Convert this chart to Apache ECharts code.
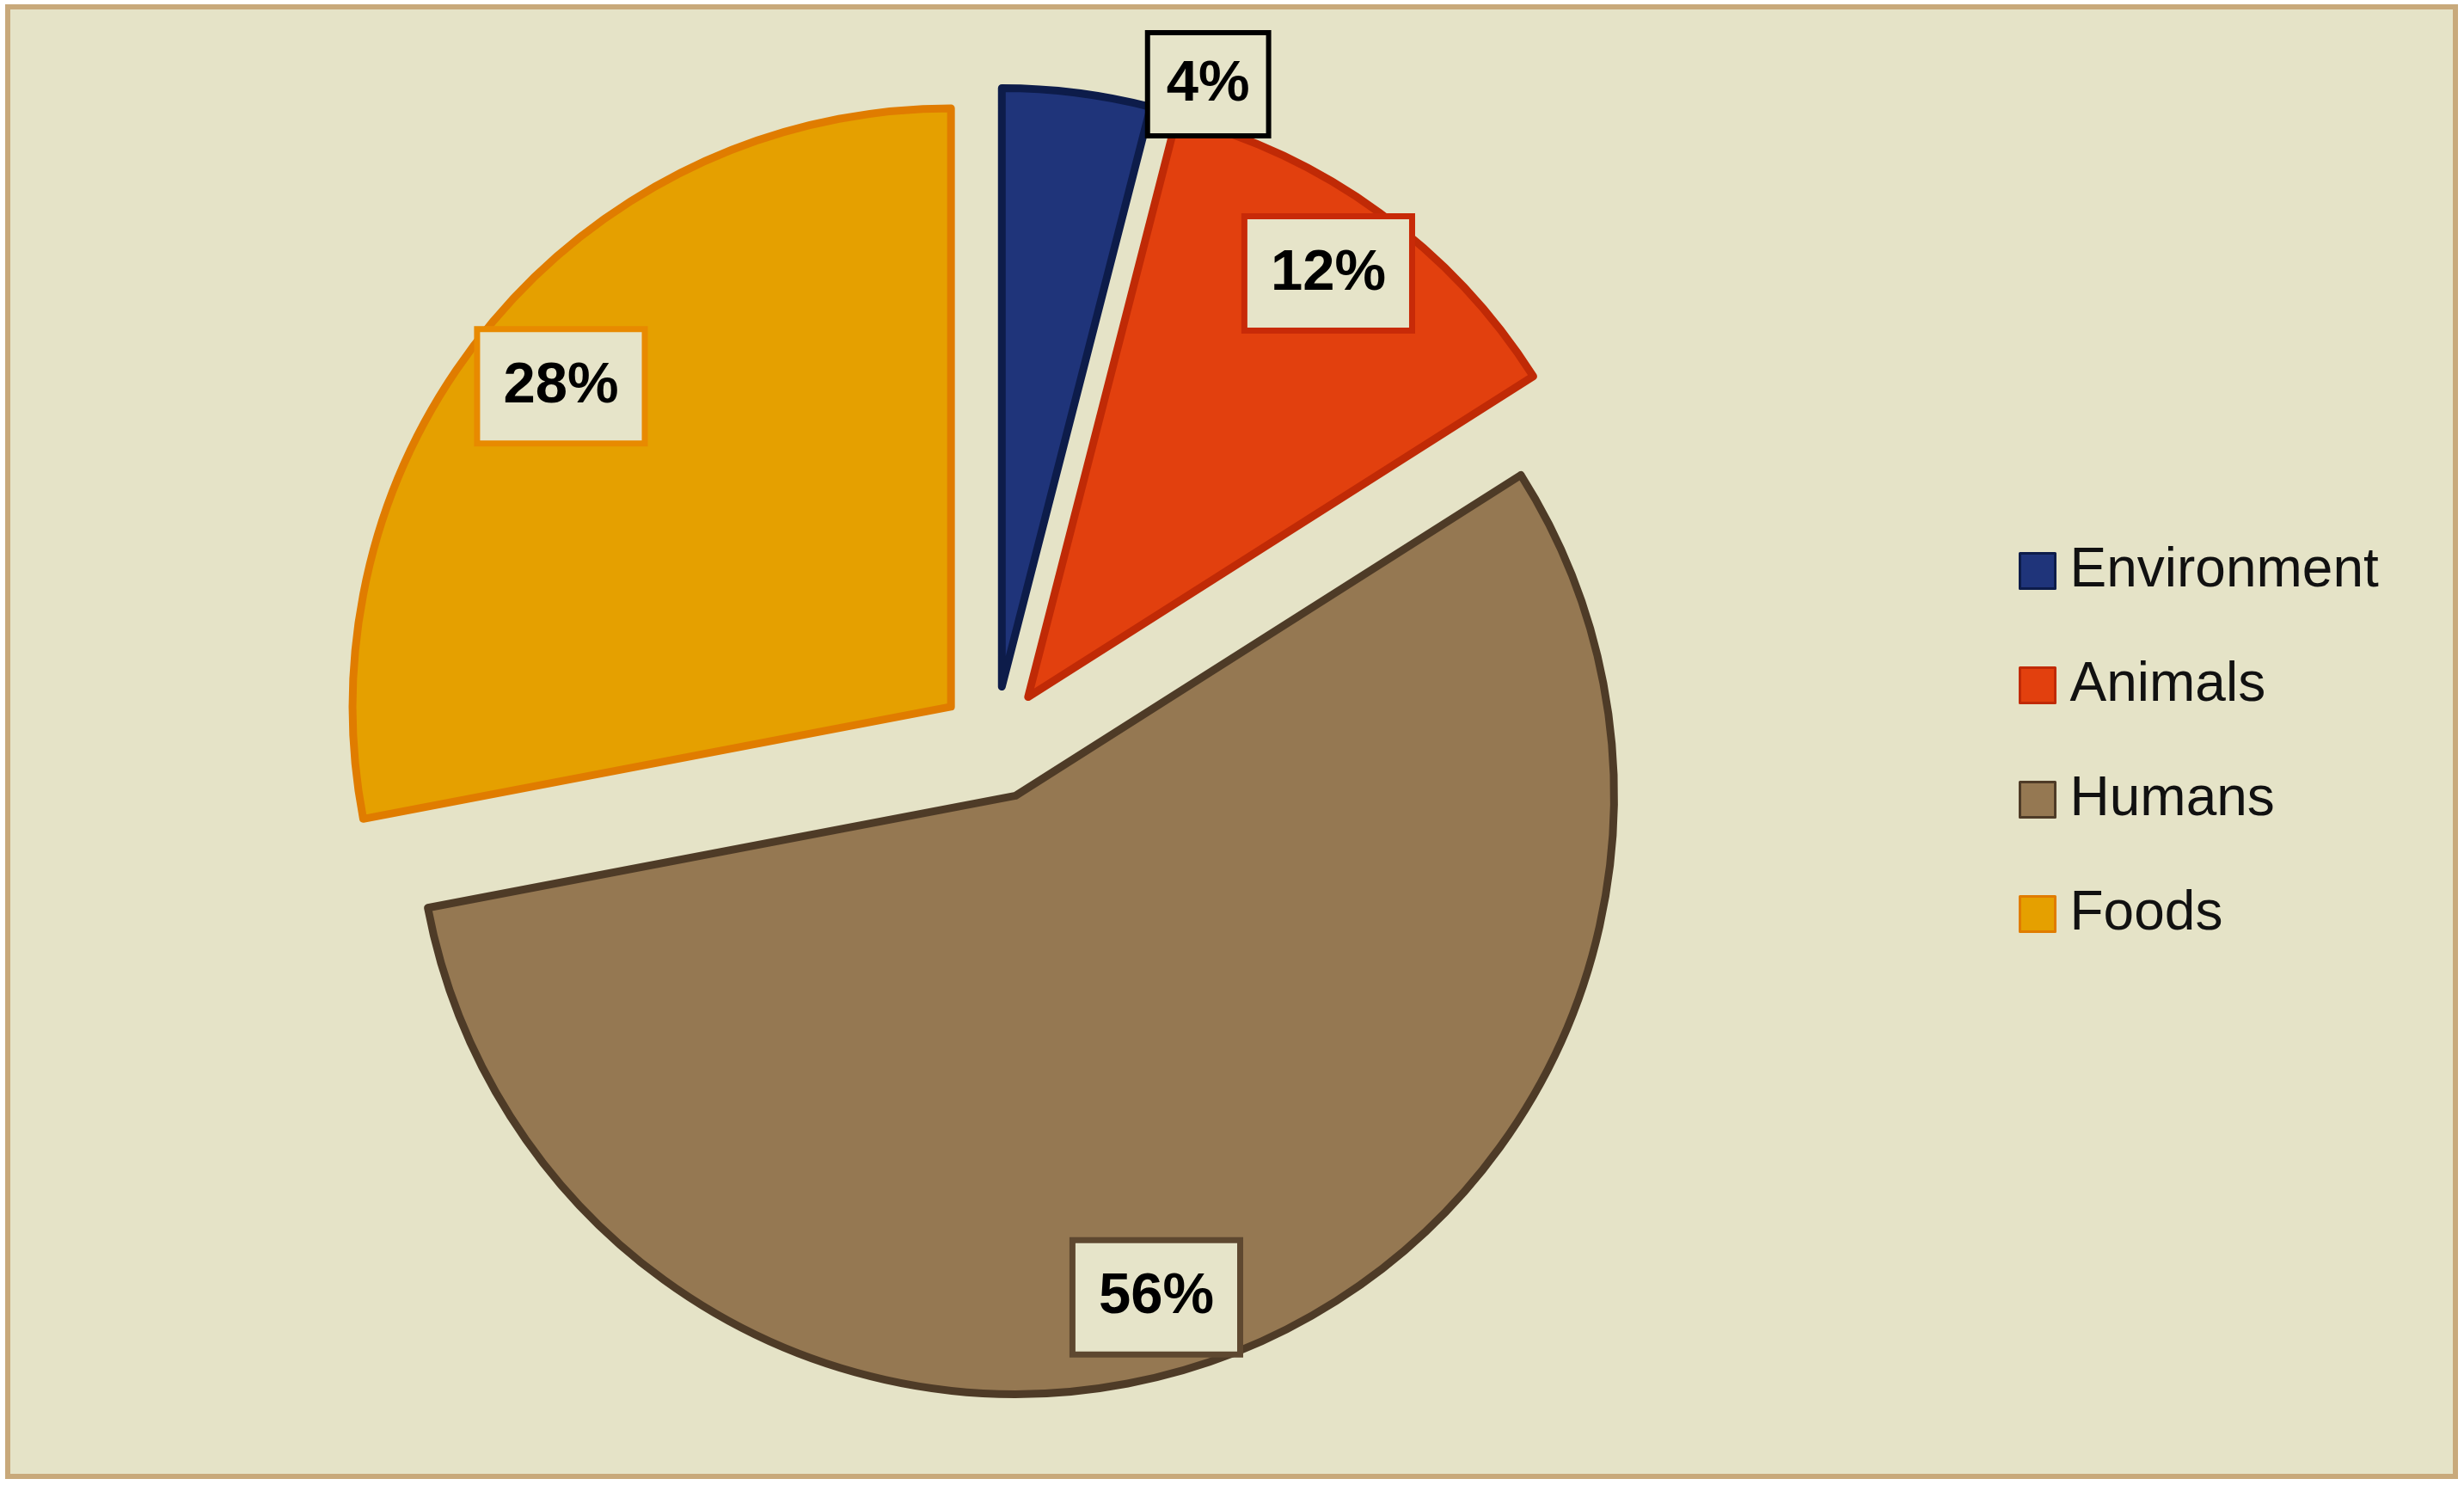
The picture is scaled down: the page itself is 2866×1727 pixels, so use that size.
<!DOCTYPE html>
<html>
<head>
<meta charset="utf-8">
<script src="https://cdn.jsdelivr.net/npm/echarts@6/dist/echarts.min.js"></script>
<style>
html,body{margin:0;padding:0;background:#ffffff;}
#chart{width:2866px;height:1727px;}
</style>
</head>
<body>
<div id="chart"></div>
<script>
const categories = ['Environment', 'Animals', 'Humans', 'Foods'];
const values = [4, 12, 56, 28];
const fillColors = ['#1F347A', '#E2400E', '#957852', '#E5A000'];
const edgeColors = ['#0D1C4A', '#C02A06', '#4E3B27', '#E07C00'];
const labelEdgeColors = ['#000000', '#C82A08', '#5E4830', '#E88A00'];
const labelShift = [[0, 0], [0, -12], [-55, 31], [4, 6]];

const chart = echarts.init(document.getElementById('chart'));

const FONT = '"Liberation Sans", Arial, sans-serif';
const CENTER = [1157, 864];
const R = 696;
const OFFSET = 66;

const mainData = categories.map((name, i) => ({
  name: name,
  value: values[i],
  selected: true,
  itemStyle: { color: fillColors[i], borderColor: edgeColors[i], borderWidth: 9 },
  select: { itemStyle: { color: fillColors[i], borderColor: edgeColors[i], borderWidth: 9 } },
  label: { show: i === 0 },
  labelLine: { show: false }
}));

const labelData = categories.map((name, i) => ({
  name: name,
  value: values[i],
  selected: true,
  label: { show: i !== 0, borderColor: labelEdgeColors[i] }
}));

const labelBox = {
  formatter: '{d}%',
  fontFamily: FONT,
  fontWeight: 'bold',
  fontSize: 67,
  lineHeight: 68,
  color: '#000000',
  backgroundColor: '#E6E4C9'
};

chart.setOption({
  backgroundColor: '#ffffff',
  animation: false,
  graphic: [{
    type: 'rect',
    z: -10,
    silent: true,
    shape: { x: 9, y: 8, width: 2847, height: 1709 },
    style: { fill: '#E5E3C7', stroke: '#C8A97B', lineWidth: 6 }
  }],
  legend: {
    orient: 'vertical',
    left: 2343,
    top: 627,
    itemWidth: 41,
    itemHeight: 41,
    itemGap: 69,
    icon: 'rect',
    selectedMode: false,
    data: categories,
    itemStyle: { borderWidth: 3 },
    textStyle: { fontFamily: FONT, fontSize: 64, lineHeight: 64, color: '#111111', padding: [0, 0, 0, 12] }
  },
  series: [{
    type: 'pie',
    name: 'main',
    center: CENTER,
    radius: [0, R],
    startAngle: 90,
    clockwise: true,
    selectedMode: 'multiple',
    selectedOffset: OFFSET,
    avoidLabelOverlap: false,
    emphasis: { disabled: true },
    label: Object.assign({}, labelBox, {
      position: 'outside',
      distanceToLabelLine: 84,
      padding: [23, 19],
      borderColor: labelEdgeColors[0],
      borderWidth: 6
    }),
    labelLine: { show: false, length: 10, length2: 0 },
    data: mainData
  }, {
    type: 'pie',
    name: 'labels',
    center: CENTER,
    radius: [0, 1182],
    startAngle: 90,
    clockwise: true,
    silent: true,
    selectedMode: 'multiple',
    selectedOffset: OFFSET,
    avoidLabelOverlap: false,
    emphasis: { disabled: true },
    itemStyle: { color: 'rgba(0,0,0,0)', borderWidth: 0 },
    select: { itemStyle: { color: 'rgba(0,0,0,0)', borderWidth: 0 } },
    label: Object.assign({}, labelBox, {
      position: 'inside',
      padding: [29, 27],
      borderWidth: 7
    }),
    labelLayout: function (p) {
      const s = labelShift[p.dataIndex];
      return { dx: s[0], dy: s[1] };
    },
    labelLine: { show: false },
    data: labelData
  }]
});
</script>
</body>
</html>
